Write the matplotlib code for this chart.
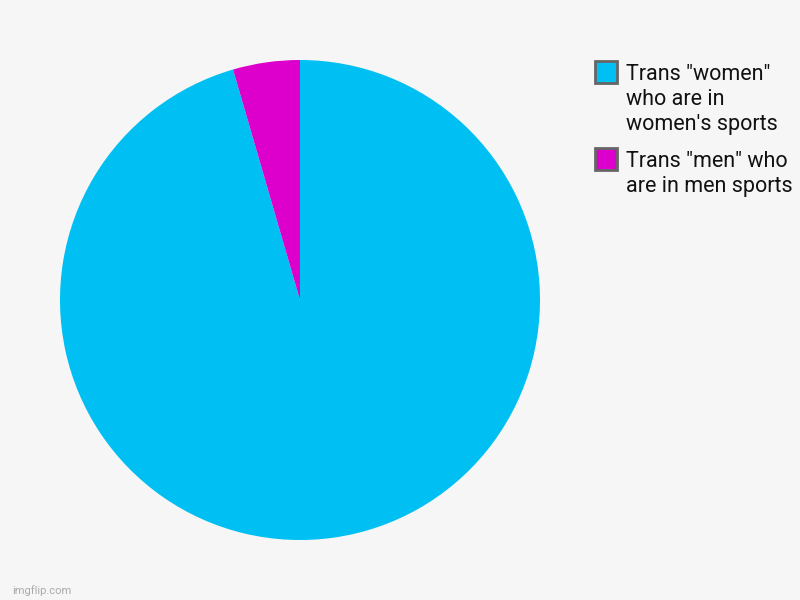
import matplotlib.pyplot as plt
from matplotlib.patches import Rectangle

labels = ['Trans "women"\nwho are in\nwomen\'s sports', 'Trans "men" who\nare in men sports']
values = [95.5, 4.5]
colors = ['#00BFF3', '#DD00CC']

plt.rcParams['font.family'] = ['Roboto', 'DejaVu Sans']

W, H = 800, 600
fig = plt.figure(figsize=(8, 6), dpi=100, facecolor='#F6F6F6')
ax = fig.add_axes([60 / W, 60 / H, 480 / W, 480 / H])
ax.set_facecolor('#F6F6F6')

wedges, _ = ax.pie(values, colors=colors, startangle=90, counterclock=False,
                   radius=1, wedgeprops={'linewidth': 0})
ax.set_xlim(-1, 1)
ax.set_ylim(-1, 1)
ax.set_aspect('equal')
ax.axis('off')

# legend drawn by hand: box lines up with the first text line, like the original
top = 60
line_h = 25
for lab, col in zip(labels, colors):
    fig.patches.append(Rectangle((595 / W, 1 - (top + 23) / H), 22 / W, 22 / H,
                                 transform=fig.transFigure, facecolor=col,
                                 edgecolor='#666666', linewidth=2))
    lines = lab.split('\n')
    for i, ln in enumerate(lines):
        fig.text(626 / W, 1 - (top + 20 + i * line_h) / H, ln, fontsize=15.5,
                 color='#111111', va='baseline', ha='left')
    top += len(lines) * line_h + 12

fig.text(12 / W, 1 - 591 / H, 'imgflip.com', fontsize=8, color='#AAAAAA', va='center')

fig.savefig('out.png', dpi=100, facecolor=fig.get_facecolor())
